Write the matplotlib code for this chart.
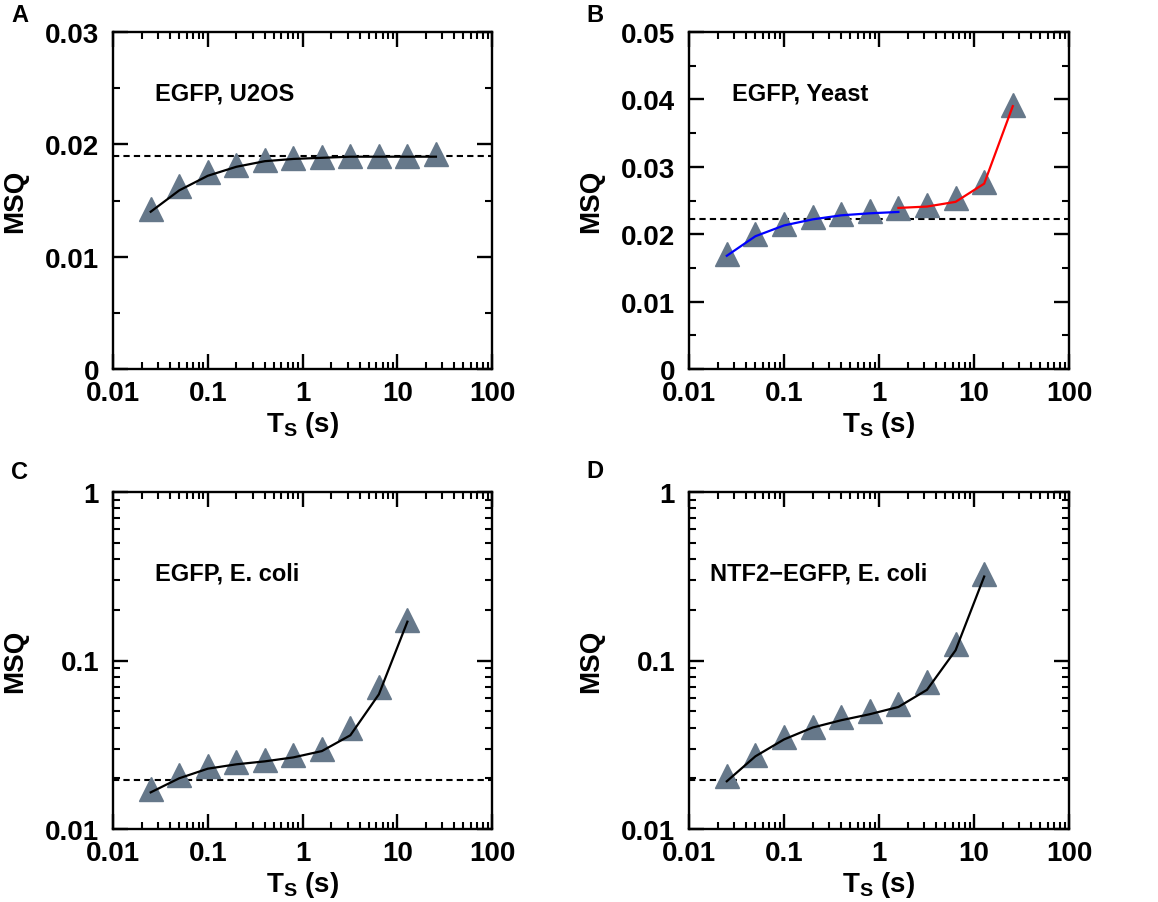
import numpy as np
import matplotlib
matplotlib.use("Agg")
import matplotlib.pyplot as plt
from matplotlib.ticker import FixedLocator, LogLocator, NullFormatter, FuncFormatter, MultipleLocator

plt.rcParams['font.family'] = ['Liberation Sans', 'DejaVu Sans']
plt.rcParams['font.weight'] = 'bold'
plt.rcParams['mathtext.fontset'] = 'custom'
plt.rcParams['mathtext.rm'] = 'Liberation Sans:bold'
plt.rcParams['mathtext.default'] = 'regular'

# sampling times (s)
ts = [0.025, 0.05, 0.1, 0.2, 0.4, 0.8, 1.6, 3.2, 6.4, 12.8, 25.6]

# A: EGFP, U2OS
msq_a = [0.0142, 0.0163, 0.0175, 0.0182, 0.0186, 0.0188, 0.0189, 0.0190, 0.0190, 0.0190, 0.0191]
fit_a = [0.0140, 0.0159, 0.0172, 0.0180, 0.0185, 0.0187, 0.0188, 0.0189, 0.0189, 0.0189, 0.0189]
base_a = 0.0190

# B: EGFP, Yeast
msq_b = [0.0170, 0.0200, 0.0215, 0.0225, 0.0230, 0.0235, 0.0239, 0.0243, 0.0253, 0.0277, 0.0392]
fit_b_blue = [0.0168, 0.0197, 0.0213, 0.0222, 0.0228, 0.0231, 0.0233]
fit_b_red = [0.0239, 0.0241, 0.0248, 0.0275, 0.0390]
base_b = 0.0223

# C: EGFP, E. coli
msq_c = [0.0172, 0.0210, 0.0238, 0.0250, 0.0258, 0.0275, 0.0300, 0.0395, 0.0700, 0.175]
fit_c = [0.0165, 0.0200, 0.0228, 0.0242, 0.0252, 0.0266, 0.0290, 0.0360, 0.0630, 0.170]
base_c = 0.0195

# D: NTF2-EGFP, E. coli
msq_d = [0.0206, 0.0275, 0.0352, 0.0405, 0.0460, 0.0500, 0.0550, 0.0745, 0.125, 0.325]
fit_d = [0.0192, 0.0270, 0.0340, 0.0400, 0.0442, 0.0480, 0.0530, 0.0670, 0.115, 0.315]
base_d = 0.0195

tri_color = '#66788a'

fig = plt.figure(figsize=(11.58, 9.03), dpi=100)

W, H = 1158, 903
def place(l, t, r, b):
    return fig.add_axes([l / W, (H - b) / H, (r - l) / W, (b - t) / H])

ax_a = place(113, 33, 492, 370)
ax_b = place(689, 33, 1069, 370)
ax_c = place(113, 493, 492, 830)
ax_d = place(689, 493, 1069, 830)

def style(ax):
    ax.set_xscale('log')
    ax.set_xlim(0.01, 100)
    ax.xaxis.set_major_locator(FixedLocator([0.01, 0.1, 1, 10, 100]))
    ax.xaxis.set_minor_locator(LogLocator(base=10, subs=np.arange(2, 10)))
    ax.xaxis.set_minor_formatter(NullFormatter())
    ax.xaxis.set_major_formatter(FuncFormatter(lambda v, p: '%g' % v))
    for s in ax.spines.values():
        s.set_linewidth(1.7)
    ax.tick_params(which='major', direction='in', length=11, width=1.7,
                   top=True, right=True, labelsize=20, pad=8)
    ax.tick_params(which='minor', direction='in', length=5, width=1.5,
                   top=True, right=True)
    ax.tick_params(axis='y', which='major', pad=10)
    ax.set_xlabel('T$_{S}$ (s)', fontsize=20, fontweight='bold', labelpad=2)
    ax.set_ylabel('MSQ', fontsize=20, fontweight='bold', labelpad=12)
    for lab in ax.get_xticklabels() + ax.get_yticklabels():
        lab.set_fontweight('bold')

mk = dict(marker='^', markersize=17, color=tri_color, linestyle='none', zorder=2)
dash = dict(color='black', linestyle=(0, (3, 2)), linewidth=1.5, zorder=1)

# A
ax_a.axhline(base_a, **dash)
ax_a.plot(ts, msq_a, **mk)
ax_a.plot(ts, fit_a, color='black', linewidth=1.6, zorder=3)
ax_a.set_ylim(0, 0.03)
ax_a.yaxis.set_major_locator(MultipleLocator(0.01))
ax_a.yaxis.set_minor_locator(MultipleLocator(0.005))
ax_a.yaxis.set_major_formatter(FuncFormatter(lambda v, p: '%g' % round(v, 4)))
ax_a.text(0.11, 0.82, 'EGFP, U2OS', transform=ax_a.transAxes, fontsize=17,
          fontweight='bold', va='center')

# B
ax_b.axhline(base_b, **dash)
ax_b.plot(ts, msq_b, **mk)
ax_b.plot(ts[:7], fit_b_blue, color='blue', linewidth=1.6, zorder=3)
ax_b.plot(ts[6:], fit_b_red, color='red', linewidth=1.6, zorder=3)
ax_b.set_ylim(0, 0.05)
ax_b.yaxis.set_major_locator(MultipleLocator(0.01))
ax_b.yaxis.set_minor_locator(MultipleLocator(0.005))
ax_b.yaxis.set_major_formatter(FuncFormatter(lambda v, p: '%g' % round(v, 4)))
ax_b.text(0.113, 0.82, 'EGFP, Yeast', transform=ax_b.transAxes, fontsize=17,
          fontweight='bold', va='center')

# C and D (log y)
for ax, msq, fit, base, label, tx in [
        (ax_c, msq_c, fit_c, base_c, 'EGFP, E. coli', 0.11),
        (ax_d, msq_d, fit_d, base_d, 'NTF2\u2212EGFP, E. coli', 0.055)]:
    ax.axhline(base, **dash)
    ax.plot(ts[:len(msq)], msq, **mk)
    ax.plot(ts[:len(fit)], fit, color='black', linewidth=1.6, zorder=3)
    ax.set_yscale('log')
    ax.set_ylim(0.01, 1)
    ax.yaxis.set_major_locator(FixedLocator([0.01, 0.1, 1]))
    ax.yaxis.set_minor_locator(LogLocator(base=10, subs=np.arange(2, 10)))
    ax.yaxis.set_minor_formatter(NullFormatter())
    ax.yaxis.set_major_formatter(FuncFormatter(lambda v, p: '%g' % v))
    ax.text(tx, 0.76, label, transform=ax.transAxes, fontsize=17,
            fontweight='bold', va='center')

for ax in (ax_a, ax_b, ax_c, ax_d):
    style(ax)

for letter, x, y in [('A', 20, 15), ('B', 595, 15), ('C', 20, 473), ('D', 595, 472)]:
    fig.text(x / W, 1 - y / H, letter, fontsize=17, fontweight='bold',
             ha='center', va='center')

fig.savefig('out.png', dpi=100)
